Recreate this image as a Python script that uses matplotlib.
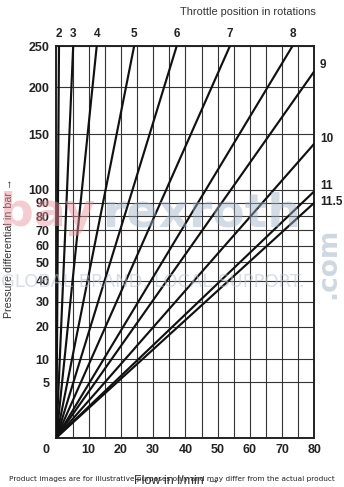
#!/usr/bin/env python3

import matplotlib.pyplot as plt
import numpy as np

# throttle positions and where each curve leaves the chart (flow l/min, pressure bar)
positions = ['2', '3', '4', '5', '6', '7', '8', '9', '10', '11', '11.5']
end_flow = [0.8, 5.2, 12.5, 24.1, 37.3, 53.8, 73.2, 80, 80, 80, 80]
end_pressure = [250, 250, 250, 250, 250, 250, 250, 219, 141, 99, 90]
# vertical nudge (pt) of the right-hand labels
label_lift = {'9': 4.5, '10': 3.6, '11': 3.6, '11.5': 0.3}

x_ticks = [10, 20, 30, 40, 50, 60, 70, 80]
x_grid = np.arange(0, 81, 5)
y_ticks = [5, 10, 20, 30, 40, 50, 60, 70, 80, 90, 100, 150, 200, 250]

fig = plt.figure(figsize=(3.44, 4.87), dpi=100)
ax = fig.add_axes([0.164, 0.1016, 0.750, 0.8039])

ax.set_yscale('function', functions=(lambda v: np.sqrt(np.clip(v, 0, None)), np.square))
ax.set_xlim(0, 80)
ax.set_ylim(0, 250)

for xg in x_grid:
    ax.axvline(xg, color='#333333', lw=0.8, zorder=1)
for yg in y_ticks:
    ax.axhline(yg, color='#333333', lw=0.8, zorder=1)

# each curve is dp ~ Q^2, which the sqrt axis draws straight from the origin
for lab, qe, pe in zip(positions, end_flow, end_pressure):
    ax.plot([0, qe], [0, pe], color='#111111', lw=1.55, solid_capstyle='butt', zorder=3)
    if pe >= 250:
        ax.annotate(lab, (qe, pe), xytext=(0, 4), textcoords='offset points',
                    ha='center', va='bottom', fontsize=8.5, fontweight='bold',
                    family='Liberation Sans', color='#222222', annotation_clip=False)
    else:
        ax.annotate(lab, (qe, pe), xytext=(4, label_lift[lab]), textcoords='offset points',
                    ha='left', va='center', fontsize=8.5, fontweight='bold',
                    family='Liberation Sans', color='#222222', annotation_clip=False)

ax.set_xticks(x_ticks)
ax.set_yticks(y_ticks)
ax.set_xticklabels([str(v) for v in x_ticks], fontsize=9, fontweight='bold',
                   family='Liberation Sans', color='#222222')
ax.set_yticklabels([str(v) for v in y_ticks], fontsize=9, fontweight='bold',
                   family='Liberation Sans', color='#222222')
ax.tick_params(length=0, pad=5)
fig.text(46 / 344, 1 - 450 / 487, '0', ha='center', va='center', fontsize=9,
         fontweight='bold', family='Liberation Sans', color='#222222')
for s in ax.spines.values():
    s.set_linewidth(1.4)
    s.set_color('#222222')

fig.text(0.918, 0.975, 'Throttle position in rotations', ha='right', va='center',
         fontsize=7.9, family='Liberation Sans', color='#333333')
fig.text(0.025, 0.491, 'Pressure differential in bar \u2192', rotation=90, ha='center',
         va='center', fontsize=7.7, family='Liberation Sans', color='#333333')
fig.text(0.515, 0.012, 'Flow in l/min \u2192', ha='center', va='center',
         fontsize=9, family='Liberation Sans', color='#333333')

# watermark overlay
fig.text(0.0, 0.515, 'bay', fontsize=34, fontweight='bold', family='DejaVu Sans',
         color='#e8909c', alpha=0.45, ha='left', va='bottom', zorder=10)
fig.text(0.30, 0.515, 'rexroth', fontsize=34, fontweight='bold', family='DejaVu Sans',
         color='#9fb0c4', alpha=0.45, ha='left', va='bottom', zorder=10)
fig.text(0.002, 0.42, 'GLOBAL BRAND, LOCAL SUPPORT.', fontsize=13, family='DejaVu Sans',
         color='#b8c2cc', alpha=0.55, ha='left', va='center', zorder=10)
fig.text(0.955, 0.46, '.com', rotation=90, fontsize=19, fontweight='bold',
         family='DejaVu Sans', color='#9fb0c4', alpha=0.5, ha='center', va='center', zorder=10)

fig.text(0.5, 0.017, 'Product images are for illustrative purposes only and may differ from the actual product',
         ha='center', va='center', fontsize=5.3, family='DejaVu Sans', color='#222222')

plt.savefig('out.png', dpi=100)
